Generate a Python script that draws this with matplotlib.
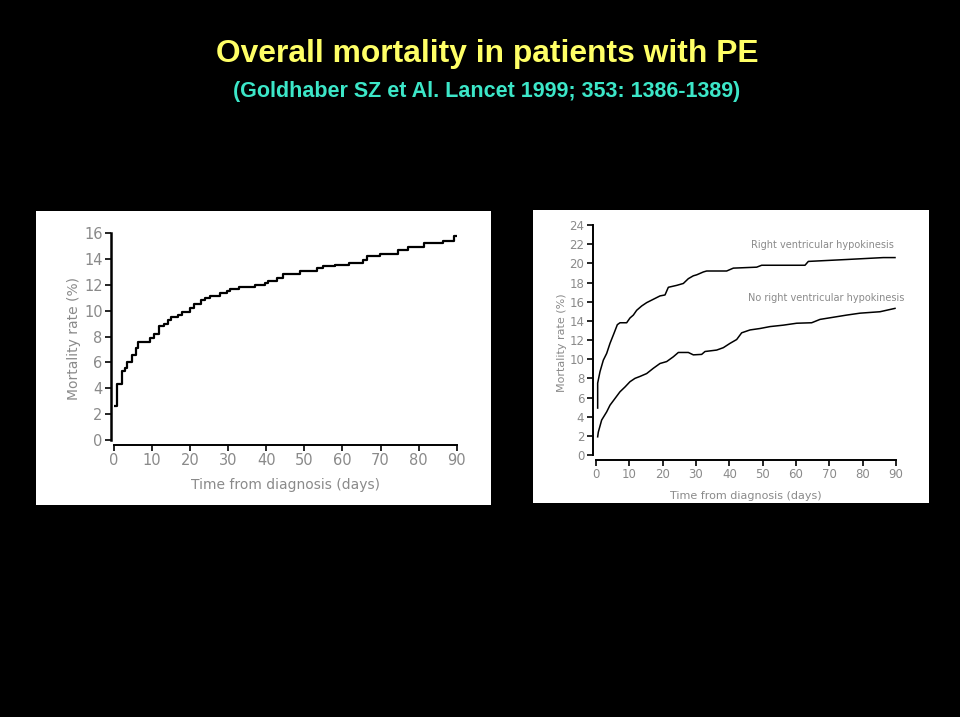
import numpy as np
import matplotlib.pyplot as plt

# Overall mortality (step curve), left panel
days_all = [0.0, 0.8, 2.0, 2.8, 3.5, 4.6, 5.9, 6.4, 9.5, 10.4, 11.8, 13.0, 14.3, 15.1,
            16.9, 17.8, 20.0, 21.1, 22.8, 23.9, 25.2, 27.8, 29.6, 30.5, 32.7, 37.0,
            39.7, 40.5, 42.8, 44.5, 48.9, 53.2, 55.0, 58.0, 61.6, 65.5, 66.4, 69.9,
            74.7, 77.3, 81.3, 86.5, 89.2, 89.8]
mort_all = [2.6, 4.3, 5.3, 5.6, 6.0, 6.6, 7.1, 7.55, 7.9, 8.2, 8.8, 9.0, 9.3, 9.5,
            9.7, 9.9, 10.2, 10.5, 10.85, 11.0, 11.15, 11.4, 11.55, 11.7, 11.8, 12.0,
            12.15, 12.3, 12.5, 12.85, 13.1, 13.3, 13.45, 13.55, 13.7, 13.95, 14.2, 14.4,
            14.7, 14.9, 15.25, 15.4, 15.75, 15.75]

# Right panel: RV hypokinesis vs none
days_rv = [0.5, 0.5, 1.2, 2.2, 3.2, 4.2, 5.4, 6.4, 7.2, 9.2, 10.2, 11.2, 12.2, 13.7,
           15.2, 17.2, 19.2, 20.7, 21.7, 24.2, 26.2, 27.7, 29.2, 30.2, 32.2, 33.2,
           39.2, 41.2, 48.2, 49.7, 62.7, 63.7, 75.2, 86.2, 89.7]
mort_rv = [4.9, 7.5, 8.7, 9.9, 10.6, 11.65, 12.7, 13.6, 13.8, 13.8, 14.3, 14.6, 15.1,
           15.55, 15.9, 16.25, 16.6, 16.7, 17.5, 17.7, 17.9, 18.4, 18.7, 18.8, 19.1,
           19.2, 19.2, 19.5, 19.6, 19.8, 19.8, 20.2, 20.4, 20.6, 20.6]
days_norv = [0.5, 0.7, 1.7, 3.2, 4.2, 5.7, 7.2, 8.7, 10.2, 11.7, 13.2, 15.2, 17.2,
             19.2, 21.2, 23.2, 24.7, 27.7, 29.2, 31.7, 32.7, 36.2, 38.2, 40.2, 42.2,
             43.7, 46.2, 49.2, 52.2, 56.2, 60.2, 64.7, 67.2, 75.2, 79.2, 85.2, 89.7]
mort_norv = [1.9, 2.4, 3.65, 4.5, 5.2, 5.9, 6.6, 7.1, 7.65, 8.0, 8.2, 8.5, 9.05,
             9.55, 9.75, 10.25, 10.7, 10.7, 10.45, 10.5, 10.8, 10.95, 11.2, 11.65, 12.05,
             12.75, 13.05, 13.2, 13.4, 13.55, 13.75, 13.8, 14.15, 14.6, 14.8, 14.95, 15.3]

title = "Overall mortality in patients with PE"
subtitle = "(Goldhaber SZ et Al. Lancet 1999; 353: 1386-1389)"
xlabel = "Time from diagnosis (days)"
ylabel = "Mortality rate (%)"

W, H = 960, 717
fig = plt.figure(figsize=(W / 100, H / 100), dpi=100, facecolor="black")

def px_axes(x0, y0, x1, y1):
    # pixel box (top-left origin) -> figure axes
    return fig.add_axes([x0 / W, 1 - y1 / H, (x1 - x0) / W, (y1 - y0) / H])

# white picture boxes, drawn first
for (x0, y0, x1, y1) in [(36, 211, 491, 505), (533, 210, 929, 503)]:
    bg = px_axes(x0, y0, x1, y1)
    bg.set_facecolor("white")
    bg.set_xticks([])
    bg.set_yticks([])
    for s in bg.spines.values():
        s.set_visible(False)

txt_col = "#8a8a8a"

def style(ax, ytop, fs, outward):
    ax.set_facecolor("none")
    for s in ["top", "right"]:
        ax.spines[s].set_visible(False)
    ax.spines["left"].set_position(("outward", outward))
    ax.spines["left"].set_bounds(0, ytop)
    ax.spines["bottom"].set_bounds(0, 90)
    ax.spines["left"].set_linewidth(1.8)
    ax.spines["bottom"].set_linewidth(1.4)
    ax.set_xticks(np.arange(0, 91, 10))
    ax.tick_params(direction="out", length=4, width=1.2, colors="black",
                   labelcolor=txt_col, labelsize=fs, pad=2)

# left panel
ax1 = px_axes(114, 233, 456.7, 445)
ax1.step(days_all, mort_all, where="post", color="black", lw=1.6)
ax1.set_xlim(0, 90)
ax1.set_ylim(-0.386, 16)
ax1.set_yticks(np.arange(0, 17, 2))
style(ax1, 16, 10.5, 2.2)
ax1.set_xlabel(xlabel, color=txt_col, fontsize=10, labelpad=7)
ax1.set_ylabel(ylabel, color=txt_col, fontsize=10, labelpad=2)

# right panel
ax2 = px_axes(596, 225, 896, 460)
ax2.plot(days_rv, mort_rv, color="black", lw=1.1)
ax2.plot(days_norv, mort_norv, color="black", lw=1.1)
ax2.set_xlim(0, 90)
ax2.set_ylim(-0.52, 24)
ax2.set_yticks(np.arange(0, 25, 2))
style(ax2, 24, 8.5, 2.4)
ax2.spines["left"].set_linewidth(1.4)
ax2.set_xlabel(xlabel, color=txt_col, fontsize=8, labelpad=7)
ax2.set_ylabel(ylabel, color=txt_col, fontsize=8, labelpad=2)
ax2.text(89.5, 21.9, "Right ventricular hypokinesis", ha="right", va="center",
         color=txt_col, fontsize=7)
ax2.text(92.5, 16.4, "No right ventricular hypokinesis", ha="right", va="center",
         color=txt_col, fontsize=7)

fig.text(487 / W, 1 - 54 / H, title, ha="center", va="center", color="#FFFF66",
         fontsize=22.9, fontweight="bold", family="Liberation Sans")
fig.text(487 / W, 1 - 92 / H, subtitle, ha="center", va="center", color="#3CE6C8",
         fontsize=15.5, fontweight="bold", family="Liberation Sans")

fig.savefig("out.png", dpi=100, facecolor="black")
